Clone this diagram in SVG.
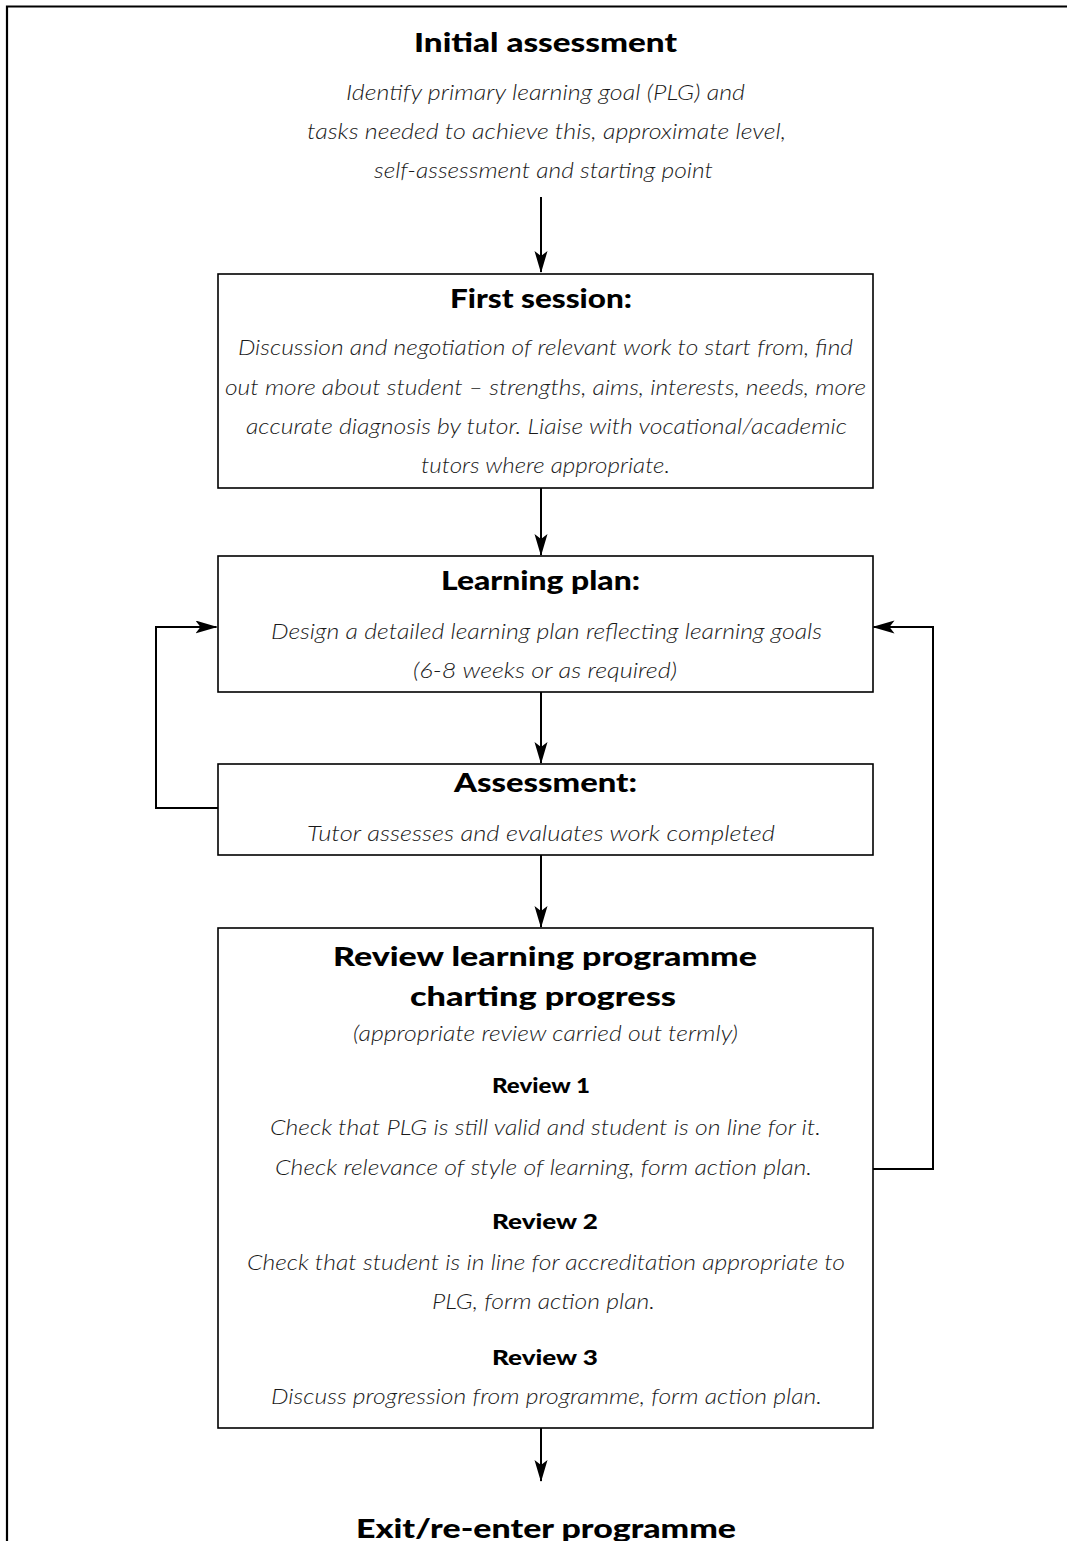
<svg xmlns="http://www.w3.org/2000/svg" width="1067" height="1541" viewBox="0 0 1067 1541">
<style>
.box{fill:#fff;stroke:#000;stroke-width:1.6}
.t{font-family:Lato,"Open Sans","Liberation Sans",sans-serif;font-weight:900;fill:#000;text-anchor:middle}
.h{font-size:27px}
.s{font-size:20px}
.i{font-family:Lato,"Open Sans","Liberation Sans",sans-serif;font-style:italic;font-weight:300;font-size:22px;fill:#1a1a1a;text-anchor:middle}
.c{fill:none;stroke:#000;stroke-width:2}
</style>
<defs>
<marker id="ah" markerWidth="22" markerHeight="14" refX="21" refY="6.5" orient="auto" markerUnits="userSpaceOnUse">
<path d="M0,0 L22,6.5 L0,13 L5,6.5 z" fill="#000"/>
</marker>
</defs>
<rect width="1067" height="1541" fill="#fff"/>
<path d="M7,1541 V6.5 H1067" fill="none" stroke="#000" stroke-width="2.2"/>

<g id="node-initial">
<text class="t h" x="545.5" y="52" textLength="263" lengthAdjust="spacingAndGlyphs">Initial assessment</text>
<text class="i" x="545.5" y="100" textLength="399" lengthAdjust="spacingAndGlyphs">Identify primary learning goal (PLG) and</text>
<text class="i" x="546.5" y="139" textLength="479" lengthAdjust="spacingAndGlyphs">tasks needed to achieve this, approximate level,</text>
<text class="i" x="543.5" y="178" textLength="339" lengthAdjust="spacingAndGlyphs">self-assessment and starting point</text>
</g>

<g id="node-first">
<rect class="box" x="218" y="274" width="655" height="214"/>
<text class="t h" x="541" y="308" textLength="182" lengthAdjust="spacingAndGlyphs">First session:</text>
<text class="i" x="545.5" y="355" textLength="615" lengthAdjust="spacingAndGlyphs">Discussion and negotiation of relevant work to start from, find</text>
<text class="i" x="545.5" y="395" textLength="641" lengthAdjust="spacingAndGlyphs">out more about student – strengths, aims, interests, needs, more</text>
<text class="i" x="546.5" y="434" textLength="601" lengthAdjust="spacingAndGlyphs">accurate diagnosis by tutor.  Liaise with vocational/academic</text>
<text class="i" x="545.5" y="473" textLength="249" lengthAdjust="spacingAndGlyphs">tutors where appropriate.</text>
</g>

<g id="node-plan">
<rect class="box" x="218" y="556" width="655" height="136"/>
<text class="t h" x="540.5" y="590" textLength="199" lengthAdjust="spacingAndGlyphs">Learning plan:</text>
<text class="i" x="546.5" y="639" textLength="551" lengthAdjust="spacingAndGlyphs">Design a detailed learning plan reflecting learning goals</text>
<text class="i" x="545" y="678" textLength="264" lengthAdjust="spacingAndGlyphs">(6-8 weeks or as required)</text>
</g>

<g id="node-assessment">
<rect class="box" x="218" y="764" width="655" height="91"/>
<text class="t h" x="545.5" y="792" textLength="183" lengthAdjust="spacingAndGlyphs">Assessment:</text>
<text class="i" x="541" y="841" textLength="468" lengthAdjust="spacingAndGlyphs">Tutor assesses and evaluates work completed</text>
</g>

<g id="node-review">
<rect class="box" x="218" y="928" width="655" height="500"/>
<text class="t h" x="545" y="966" textLength="424" lengthAdjust="spacingAndGlyphs">Review learning programme</text>
<text class="t h" x="543" y="1006" textLength="266" lengthAdjust="spacingAndGlyphs">charting progress</text>
<text class="i" x="545.5" y="1041" textLength="385" lengthAdjust="spacingAndGlyphs">(appropriate review carried out termly)</text>
<text class="t s" x="541" y="1093" textLength="98" lengthAdjust="spacingAndGlyphs">Review 1</text>
<text class="i" x="545.5" y="1135" textLength="551" lengthAdjust="spacingAndGlyphs">Check that PLG is still valid and student is on line for it.</text>
<text class="i" x="543.5" y="1175" textLength="537" lengthAdjust="spacingAndGlyphs">Check relevance of style of learning, form action plan.</text>
<text class="t s" x="545" y="1229" textLength="106" lengthAdjust="spacingAndGlyphs">Review 2</text>
<text class="i" x="546" y="1270" textLength="598" lengthAdjust="spacingAndGlyphs">Check that student is in line for accreditation appropriate to</text>
<text class="i" x="543.5" y="1309" textLength="223" lengthAdjust="spacingAndGlyphs">PLG, form action plan.</text>
<text class="t s" x="545" y="1365" textLength="106" lengthAdjust="spacingAndGlyphs">Review 3</text>
<text class="i" x="546.5" y="1404" textLength="551" lengthAdjust="spacingAndGlyphs">Discuss progression from programme, form action plan.</text>
</g>

<g id="node-exit">
<text class="t h" x="546" y="1538" textLength="380" lengthAdjust="spacingAndGlyphs">Exit/re-enter programme</text>
</g>

<g id="connectors">
<line class="c" x1="541" y1="197" x2="541" y2="272" marker-end="url(#ah)"/>
<line class="c" x1="541" y1="488" x2="541" y2="555" marker-end="url(#ah)"/>
<line class="c" x1="541" y1="692" x2="541" y2="763" marker-end="url(#ah)"/>
<line class="c" x1="541" y1="855" x2="541" y2="927" marker-end="url(#ah)"/>
<line class="c" x1="541" y1="1428" x2="541" y2="1481" marker-end="url(#ah)"/>
<path class="c" d="M218,808 H156 V627 H216.5" marker-end="url(#ah)" stroke-width="2.2"/>
<path class="c" d="M873,1169 H933 V627 H873.5" marker-end="url(#ah)" stroke-width="2.2"/>
</g>
</svg>
